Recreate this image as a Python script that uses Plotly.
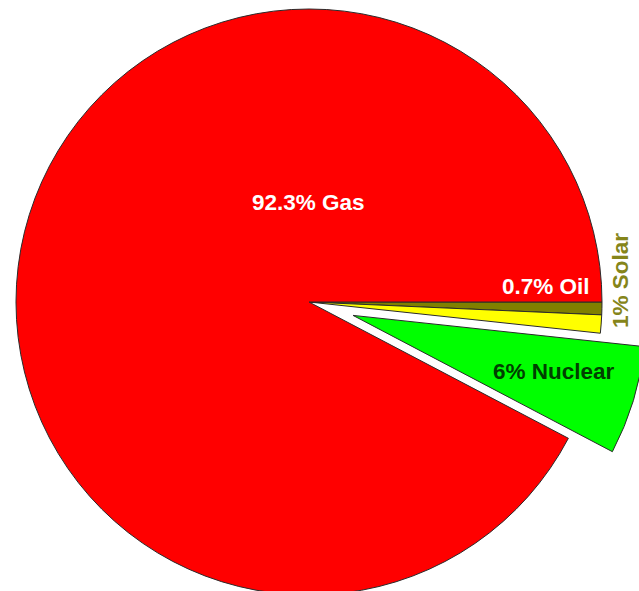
import math
import plotly.graph_objects as go

# Electricity generation mix, percent of total
labels = ["Oil", "Solar", "Nuclear", "Gas"]
shares = [0.7, 1, 6, 92.3]
slice_colors = ["#808000", "#FFFF00", "#00FF00", "#FF0000"]
label_colors = ["#FFFFFF", "#85851A", "#003F00", "#FFFFFF"]

# Canvas runs a little past the visible page so the exploded slice can spill over the edge
W, H = 660, 620
CX, CY, R = 309, 302, 293          # pie centre and radius, px from top-left
PULL_PX = 46                        # how far the Nuclear slice is pushed out
EXPLODED = "Nuclear"
OUTLINE = "#2b2b2b"
FONT = "Liberation Sans, Arial, sans-serif"

# direction of the exploded slice's bisector (clockwise from 3 o'clock)
k = labels.index(EXPLODED)
total = sum(shares)
mid_deg = (sum(shares[:k]) + shares[k] / 2) / total * 360
dx = PULL_PX * math.cos(math.radians(mid_deg))
dy = PULL_PX * math.sin(math.radians(mid_deg))


def pie_domain(cx, cy, r):
    return dict(x=[(cx - r) / W, (cx + r) / W],
                y=[1 - (cy + r) / H, 1 - (cy - r) / H])


clear = "rgba(0,0,0,0)"
base_colors = [clear if l == EXPLODED else c for l, c in zip(labels, slice_colors)]
base_lw = [0 if l == EXPLODED else 1 for l in labels]
top_colors = [c if l == EXPLODED else clear for l, c in zip(labels, slice_colors)]
top_lw = [1 if l == EXPLODED else 0 for l in labels]

common = dict(labels=labels, values=shares, sort=False, direction="clockwise",
              rotation=90, textinfo="none", hoverinfo="label+percent",
              showlegend=False)

fig = go.Figure()
fig.add_trace(go.Pie(domain=pie_domain(CX, CY, R),
                     marker=dict(colors=base_colors,
                                 line=dict(color=OUTLINE, width=base_lw)),
                     **common))
fig.add_trace(go.Pie(domain=pie_domain(CX + dx, CY + dy, R),
                     marker=dict(colors=top_colors,
                                 line=dict(color=OUTLINE, width=top_lw)),
                     **common))

# label placement in px: (x, y, angle)
label_pos = {
    "Gas": (308, 202, 0),
    "Oil": (546, 286, 0),
    "Solar": (620, 281, -90),
    "Nuclear": (554, 371, 0),
}

for lab, val, col in zip(labels, shares, label_colors):
    px, py, ang = label_pos[lab]
    fig.add_annotation(
        x=px / W, y=1 - py / H, xref="paper", yref="paper",
        text=f"{val:g}% {lab}", showarrow=False, textangle=ang,
        xanchor="center", yanchor="middle",
        font=dict(family=FONT, size=22.5, color=col, weight="bold"),
    )

fig.update_layout(
    width=W, height=H, autosize=False,
    margin=dict(l=0, r=0, t=0, b=0),
    paper_bgcolor="white", plot_bgcolor="white",
)

fig.write_html(
    "out.html",
    config={"displayModeBar": False},
    post_script=(
        "document.documentElement.style.overflow='hidden';"
        "document.body.style.overflow='hidden';"
        "document.body.style.margin='0';"
    ),
)
